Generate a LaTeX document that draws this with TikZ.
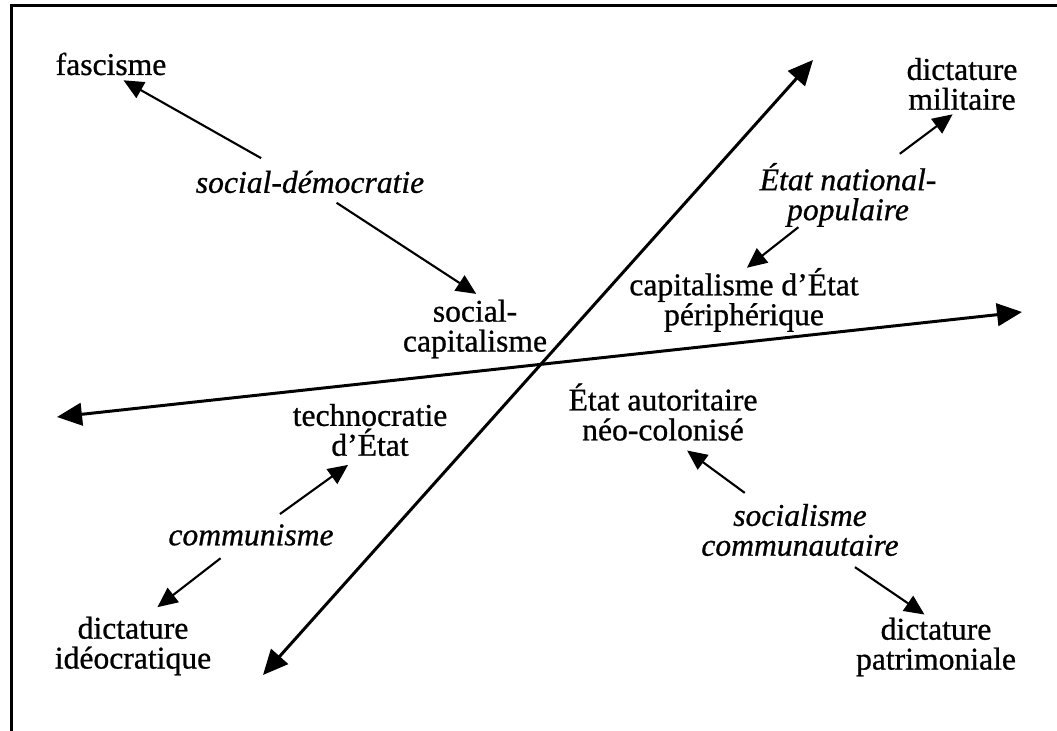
\documentclass[tikz,border=0pt]{standalone}
\usepackage{fontspec}
\setmainfont{Liberation Serif}[FakeBold=0.8]
\usetikzlibrary{arrows.meta}

\begin{document}
\begin{tikzpicture}[
  regime/.style={align=center, inner sep=0pt, font=\fontsize{18}{17}\selectfont},
  courant/.style={regime, font=\fontsize{18}{17}\selectfont\itshape},
  axis/.style={{Triangle[length=0.5cm,width=0.45cm]}-{Triangle[length=0.5cm,width=0.45cm]}, line width=1.7pt},
  link/.style={-{Triangle[length=0.4cm,width=0.36cm]}, line width=1.2pt}
]

  \useasboundingbox (0,0) rectangle (21.14,14.62);

  % Page frame (top and left edge only)
  \draw[line width=1.7pt] (0.23,0) -- (0.23,14.51) -- (21.14,14.51);

  % Draw the two main axes
  \coordinate (west) at (1.14,6.28);
  \coordinate (east) at (20.44,8.38);
  \coordinate (south) at (5.26,1.12);
  \coordinate (north) at (16.26,13.42);
  \draw[axis] (west) -- (east);
  \draw[axis] (south) -- (north);

  % Upper left quarter
  \node[regime] (fasc) at (2.22,13.34) {fascisme};
  \node[courant] (sd) at (6.20,10.98) {social-démocratie};
  \node[regime] (sc) at (9.50,8.04) {social-\\capitalisme};
  \draw[link, shorten <=0.5cm, shorten >=0.19cm] (sd.157) -- (fasc.-70);
  \draw[link, shorten <=0.34cm, shorten >=0.2cm] (sd.-43) -- (sc.72);

  % Upper right quarter
  \node[regime] (dm) at (19.24,12.94) {dictature\\militaire};
  \node[courant] (enp) at (16.96,10.72) {État national-\\populaire};
  \node[regime] (cep) at (14.88,8.62) {capitalisme d’État\\périphérique};
  \draw[link, shorten <=0.3cm, shorten >=0.13cm] (enp.39) -- (dm.-99);
  \draw[link] (enp.213) -- (cep.85);

  % Lower left quarter
  \node[regime] (td) at (7.40,6.02) {technocratie\\d’État};
  \node[courant] (comm) at (5.02,3.92) {communisme};
  \node[regime] (di) at (2.66,1.70) {dictature\\idéocratique};
  \draw[link, shorten <=0.34cm, shorten >=0.29cm] (comm.36) -- (td.-111);
  \draw[link, shorten <=0.4cm, shorten >=0.3cm] (comm.217) -- (di.67);

  % Lower right quarter
  \node[regime] (ean) at (13.26,6.38) {État autoritaire\\néo-colonisé};
  \node[courant] (scm) at (16.00,4.02) {socialisme\\communautaire};
  \node[regime] (dp) at (18.72,1.68) {dictature\\patrimoniale};
  \draw[link, shorten <=0.36cm, shorten >=0.32cm] (scm.147) -- (ean.-69);
  \draw[link, shorten <=0.38cm, shorten >=0.1cm] (scm.-34) -- (dp.104);

\end{tikzpicture}
\end{document}
